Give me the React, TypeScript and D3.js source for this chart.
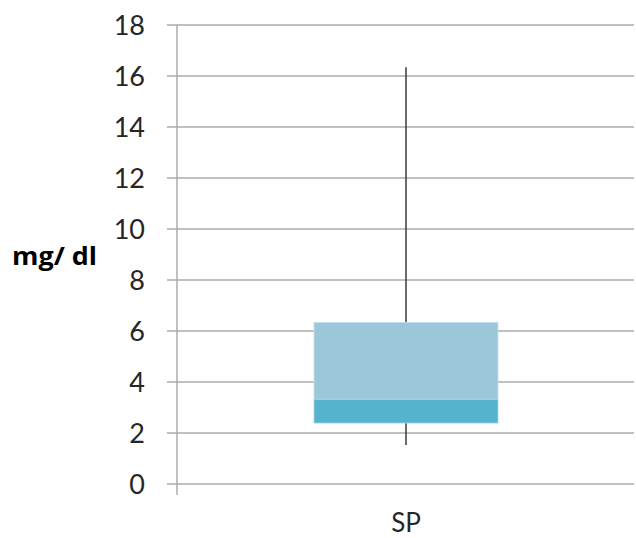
import React from "react";
import * as d3 from "d3";

const categories = ["SP"];
const whiskerLow = [1.53];
const q1 = [2.39];
const median = [3.32];
const q3 = [6.34];
const whiskerHigh = [16.34];
const yTicks = [0, 2, 4, 6, 8, 10, 12, 14, 16, 18];
const yLabel = "mg/ dl";

export default function App() {
  const W = 636, H = 538;
  const y = d3.scaleLinear().domain([0, 18]).range([484, 25]);
  const x = d3.scaleBand().domain(categories).range([177, 636]).paddingInner(0).paddingOuter(0);
  const font = "Lato, 'Open Sans', sans-serif";
  const boxW = 184;
  return (
    <svg width={W} height={H} style={{ position: "absolute", left: 0, top: 0 }}>
      <rect width={W} height={H} fill="#fff" />
      {yTicks.map((t) => (
        <g key={t}>
          <line x1={167} x2={634} y1={y(t)} y2={y(t)} stroke="#ababab" strokeWidth={1.5} />
          <text x={145} y={y(t)} dy="0.36em" textAnchor="end" fontFamily={font} fontSize={27} fill="#262626">
            {t}
          </text>
        </g>
      ))}
      <line x1={177} x2={177} y1={y(18)} y2={495} stroke="#ababab" strokeWidth={1.5} />
      {categories.map((c, i) => {
        const cx = (x(c) as number) + x.bandwidth() / 2 - 0.5;
        return (
          <g key={c}>
            <line x1={cx} x2={cx} y1={y(whiskerHigh[i])} y2={y(whiskerLow[i])} stroke="#3a3a3a" strokeWidth={1.5} />
            <rect x={cx - 92} y={y(q3[i])} width={boxW} height={y(median[i]) - y(q3[i])} fill="#9bc8d8" stroke="#c4e0ea" strokeWidth={0.8} />
            <rect x={cx - 92} y={y(median[i])} width={boxW} height={y(q1[i]) - y(median[i])} fill="#56b3cd" stroke="#a8d6e4" strokeWidth={0.8} />
            <text x={cx} y={532} textAnchor="middle" fontFamily={font} fontSize={26} fill="#262626">
              {c}
            </text>
          </g>
        );
      })}
      <text x={12} y={265} fontFamily="'Open Sans', sans-serif" fontSize={25} fontWeight="bold" fill="#000" textLength={85} lengthAdjust="spacingAndGlyphs">
        {yLabel}
      </text>
    </svg>
  );
}
